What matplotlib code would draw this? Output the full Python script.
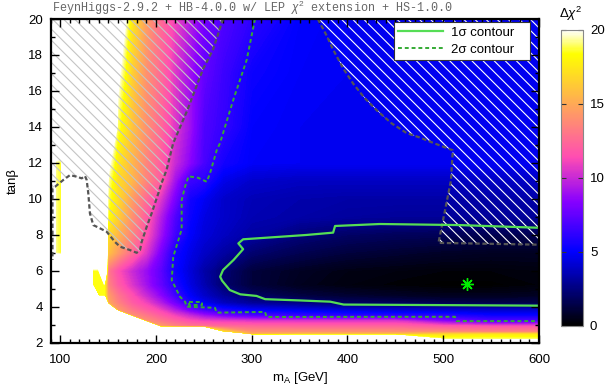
import numpy as np
import matplotlib
matplotlib.use("Agg")
import matplotlib.pyplot as plt
from matplotlib.colors import Normalize
from matplotlib.cm import ScalarMappable
from matplotlib.lines import Line2D
from matplotlib.ticker import MultipleLocator

plt.rcParams["font.family"] = ["Liberation Sans", "DejaVu Sans"]
plt.rcParams["mathtext.fontset"] = "custom"
plt.rcParams["mathtext.rm"] = "Liberation Sans"
plt.rcParams["mathtext.it"] = "Liberation Sans:italic"
plt.rcParams["hatch.linewidth"] = 0.8

# delta chi^2
# W = just above the colour range, V = no scan points (both drawn white)
W = 30.0
V = 45.0
mA_nodes = [90, 95, 101, 107, 128, 134, 140, 146,
            150, 160, 175, 190, 205, 220, 235, 250, 270, 300, 350, 400, 450, 500, 550, 600]
tb_nodes = [2.0, 2.2, 2.45, 2.6, 2.9, 3.2, 3.5, 3.8, 4.2, 4.6, 5.2, 6.0, 7.0, 8.0, 9.0, 10.0, 11.0, 12.0, 14.0, 17.0, 20.0]
dchi2 = [
    [V] * 8 + [V] * 16,
    [V] * 8 + [V] * 13 + [19, 19, 19],
    [V] * 8 + [V] * 9 + [15.5, 16, 16, 16, 17, 17.5, 17.5],
    [V] * 8 + [V] * 8 + [17, 14, 14, 14, 14, 13.8, 13.5, 13.5],
    [V] * 8 + [V] * 4 + [14.5, 13.5, 13, 12.8, 12.5, 12.5, 12.3, 12.3, 12.3, 11.8, 11.5, 11.5],
    [V] * 8 + [V] * 3 + [14, 13, 12.2, 11.5, 11, 10.8, 10.5, 10.5, 10.5, 10.5, 8.5, 7, 7],
    [V] * 8 + [V] * 2 + [14, 13, 12, 11, 10, 9, 8, 7, 6.3, 6.0, 6.0, 6.0, 5.3, 5.3],
    [V] * 8 + [V] + [14.5, 13, 12, 11, 9.5, 8, 6.8, 5.8, 5.0, 4.6, 4.3, 4.2, 4.1, 4.0, 4.0],
    [V] * 8 + [15, 13.5, 12, 11, 9.5, 7.8, 5.8, 4.8, 3.8, 3.0, 2.6, 2.0, 1.8, 1.6, 1.5, 1.5],
    [V, V, V, V, V, V, 18.5, 18.5] + [14.5, 13, 11.5, 10, 8.5, 6.6, 5.0, 4.0, 3.0, 2.0, 1.3, 1.0, 0.8, 0.6, 0.6, 0.7],
    [W, W, W, W, W, 18.5, 18.5, 18.5] + [13.5, 12, 10.5, 9, 7.5, 5.8, 4.5, 3.5, 2.2, 1.2, 0.6, 0.3, 0.15, 0.05, 0.05, 0.2],
    [W, W, W, W, W, 18.5, 18.5, W] + [13, 11.5, 10, 8.8, 7.3, 5.3, 4.3, 3.3, 2.3, 1.2, 0.7, 0.4, 0.3, 0.2, 0.2, 0.3],
    [W, 19.2, 18.5, W, W, W, W, W] + [16, 14.5, 12.5, 10.5, 8, 5.5, 4.6, 3.9, 3.2, 2.2, 1.6, 1.2, 1.0, 0.8, 0.7, 0.7],
    [W, 19.2, 18.5, W, W, W, W, W] + [17, 15.5, 13.5, 11.5, 9, 6.6, 5.0, 4.3, 3.8, 3.2, 2.4, 2.0, 1.8, 1.7, 1.6, 1.6],
    [W, 19.2, 18.5, W, W, W, W, W] + [18.5, 16.5, 14, 12, 9.5, 7.0, 5.3, 4.5, 4.0, 3.5, 3.3, 3.1, 3.0, 3.0, 3.0, 3.0],
    [W, 19.2, 18.5, W, W, W, W, W] + [19, 17, 14.5, 12.5, 10.5, 8, 5.5, 4.8, 4.0, 3.6, 3.4, 3.3, 3.3, 3.3, 3.3, 3.3],
    [W, 19.2, 18.5, W, W, W, W, W] + [19.5, 17, 15.5, 13.5, 12, 9, 6.5, 6.0, 4.6, 4.0, 3.8, 3.8, 3.8, 3.8, 3.8, 3.8],
    [W, 19.2, 18.5, W, W, W, W, W] + [20.5, 17.5, 15.5, 13.5, 12, 10, 8.5, 6.8, 5.5, 4.9, 4.8, 4.8, 4.8, 4.8, 4.8, 4.8],
    [W] * 8 + [W, 19, 16, 14, 12.5, 10.5, 9, 7.0, 6.3, 5.0, 4.8, 4.8, 4.8, 4.8, 4.8, 4.8],
    [W] * 8 + [W, 20.5, 16.5, 14, 12.5, 10.5, 9, 7.5, 6.5, 5.3, 4.9, 4.8, 4.8, 4.8, 4.8, 4.8],
    [W] * 8 + [W, 23, 17.5, 14.5, 12.5, 11, 9.5, 8, 7, 6.1, 5.0, 4.8, 4.8, 4.8, 4.8, 4.8],
]

# 1 sigma and 2 sigma contours
sig1_mA = [600, 517, 434, 387, 385, 357, 291, 286, 291, 281, 270, 267, 269, 277, 288, 305, 314, 350, 382, 396, 600]
sig1_tb = [8.39, 8.54, 8.6, 8.49, 8.12, 7.99, 7.75, 7.52, 7.2, 6.6, 6.04, 5.67, 5.45, 4.93, 4.69, 4.6, 4.42, 4.35, 4.28, 4.12, 4.06]
sig2_mA = [303.4, 294.7, 280.7, 266.8, 263.4, 256.4, 253, 244, 234, 230.3, 226.8, 226.8, 218, 216.4, 225, 230.3,
           232, 261.6, 263.4, 313.8, 315.6, 512.2, 514, 600]
sig2_tb = [20.0, 17.72, 15.5, 13.09, 12.7, 11.42, 10.95, 11.17, 11.25, 10.67, 9.93, 8.3, 6.78, 5.48, 4.56, 4.28,
           4.0, 3.94, 3.67, 3.71, 3.43, 3.44, 3.2, 3.2]
sig2_island_mA = [234, 248, 248, 234, 234]
sig2_island_tb = [4.28, 4.28, 4.08, 4.08, 4.28]

# excluded regions (boundaries)
excl_left_mA = [270, 259.5, 249, 232.5, 218, 211, 206, 202.4, 195.5, 190.3, 185, 183.3, 179.8, 172.8, 162.4, 157.2,
                148.5, 141.5, 134.5, 131, 129.3, 127.6, 125.8, 122.4, 117.2, 110.2, 103.2, 94.5, 91.9, 91.9]
excl_left_tb = [20, 18.3, 17.2, 14.9, 13.1, 11.6, 10.9, 10.3, 9.2, 8.45, 7.6, 7.15, 7.0, 7.15, 7.34, 7.6,
                8.17, 8.36, 8.54, 9.19, 10.3, 11.05, 11.27, 11.14, 11.23, 11.32, 11.05, 10.67, 10.6, 6.6]
excl_right_mA = [369, 378, 385, 395, 406, 418, 431, 446, 462, 476, 490, 510, 508, 502, 495, 600]
excl_right_tb = [20, 19.1, 18.3, 17.3, 16.4, 15.6, 14.9, 14.2, 13.65, 13.4, 13.1, 12.7, 11.0, 9.4, 7.55, 7.45]

best_mA, best_tb = 525, 5.24

xlim = (90, 600)
ylim = (2, 20)

green1 = "#55dd55"
green2 = "#34aa34"
grey = "#555555"
fs = 9.5

fig = plt.figure(figsize=(6.12, 3.87), dpi=100)
ax = fig.add_axes([0.0828, 0.1145, 0.7979, 0.8364])

cmap = plt.get_cmap("gnuplot2").copy()
cmap.set_over("white")
ax.contourf(mA_nodes, tb_nodes, np.array(dchi2), levels=np.linspace(0, 20, 201),
            cmap=cmap, extend="max", antialiased=False)

# hatched excluded areas
ax.fill(excl_left_mA + [xlim[0], xlim[0]], excl_left_tb + [excl_left_tb[-1], ylim[1]],
        facecolor="none", edgecolor="#c4c4c4", linewidth=0, hatch="\\\\\\")
ax.fill(excl_right_mA + [xlim[1]], excl_right_tb + [ylim[1]],
        facecolor="none", edgecolor="white", linewidth=0, hatch="\\\\\\")
ax.plot(excl_left_mA, excl_left_tb, color=grey, lw=1.6, dashes=(2, 1.2))
ax.plot(excl_right_mA, excl_right_tb, color=grey, lw=1.6, dashes=(2, 1.2))

ax.plot(sig1_mA, sig1_tb, color=green1, lw=1.6)
ax.plot(sig2_mA, sig2_tb, color=green2, lw=1.4, dashes=(2, 1.5))
ax.plot(sig2_island_mA, sig2_island_tb, color=green2, lw=1.4, dashes=(2, 1.5))
ax.plot(best_mA, best_tb, marker=(8, 2, 0), color="#00ee00", ms=9, mew=1.0, ls="none")

ax.set_xlim(*xlim)
ax.set_ylim(*ylim)
ax.xaxis.set_major_locator(MultipleLocator(100))
ax.xaxis.set_minor_locator(MultipleLocator(10))
ax.yaxis.set_major_locator(MultipleLocator(2))
ax.yaxis.set_minor_locator(MultipleLocator(1))
ax.tick_params(which="both", direction="in", top=True, right=True, width=1.0, labelsize=fs)
ax.tick_params(which="major", length=6)
ax.tick_params(which="minor", length=3)
ax.tick_params(axis="x", pad=8)
ax.tick_params(axis="y", pad=5.5)
for sp in ax.spines.values():
    sp.set_linewidth(1.6)

ax.set_ylabel("tanβ", fontsize=fs)
ax.yaxis.set_label_coords(-0.065, 0.5)
ax.set_xlabel("m$_\\mathrm{A}$ [GeV]", fontsize=fs)
ax.xaxis.set_label_coords(0.51, -0.085)

fig.text(52 / 612, 1 - 17 / 387, "FeynHiggs-2.9.2 + HB-4.0.0 w/ LEP $\\chi^2$ extension + HS-1.0.0",
         family="Liberation Mono", fontsize=8.5, color="#666666", va="bottom", ha="left")

handles = [Line2D([], [], color=green1, lw=1.6),
           Line2D([], [], color=green2, lw=1.4, dashes=(2, 1.5))]
leg = ax.legend(handles, ["1σ contour   ", "2σ contour   "], loc="upper right",
                bbox_to_anchor=(0.9816, 0.9907), fontsize=fs, fancybox=False,
                edgecolor="#333333", framealpha=1, handlelength=3.4, borderpad=0.35,
                labelspacing=0.35, handletextpad=0.6, borderaxespad=0)
leg.get_frame().set_linewidth(0.8)

# colour bar
cax = fig.add_axes([0.9167, 0.1584, 0.0359, 0.7641])
cb = fig.colorbar(ScalarMappable(norm=Normalize(0, 20), cmap="gnuplot2"), cax=cax,
                  ticks=[0, 5, 10, 15, 20])
cb.outline.set_edgecolor("#888888")
cb.outline.set_linewidth(0.8)
cax.tick_params(direction="in", length=3.5, width=0.8, color="#333333", labelsize=fs,
                left=True, right=True, pad=5)
fig.text(571 / 612, 1 - 14 / 387, "$\\Delta\\chi^2$", ha="center", va="center", fontsize=fs)

fig.savefig("out.png", dpi=100)
